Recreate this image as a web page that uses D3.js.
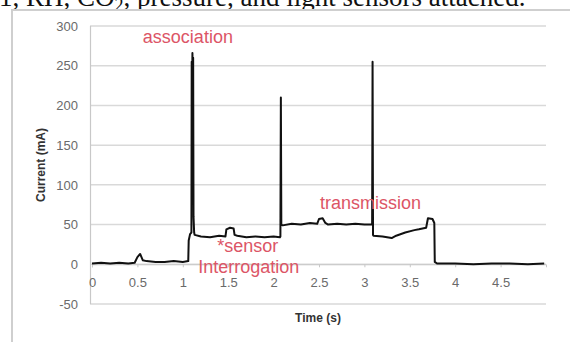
<!DOCTYPE html>
<html>
<head>
<meta charset="utf-8">
<script src="https://cdn.jsdelivr.net/npm/d3@7"></script>
<style>
  body { margin: 0; background: #fff; }
  svg { display: block; }
</style>
</head>
<body>
<div id="chart"></div>
<script>
// current trace: time (s) and current (mA)
const times = [0, 0.1, 0.2, 0.3, 0.4, 0.47, 0.5, 0.53, 0.56, 0.6, 0.7, 0.8, 0.9, 1.0, 1.06,
  1.065, 1.08, 1.095, 1.098, 1.102, 1.106, 1.11, 1.114, 1.118, 1.125, 1.13,
  1.2, 1.3, 1.4, 1.47, 1.48, 1.52, 1.56, 1.57, 1.6, 1.7, 1.8, 1.9, 2.0, 2.07,
  2.075, 2.08, 2.085, 2.1, 2.2, 2.3, 2.4, 2.48, 2.5, 2.54, 2.57, 2.6, 2.7, 2.8, 2.9, 3.0, 3.085,
  3.09, 3.095, 3.1, 3.2, 3.3, 3.35, 3.45, 3.55, 3.6, 3.68, 3.7, 3.75, 3.77, 3.775,
  3.8, 4.0, 4.2, 4.4, 4.6, 4.8, 4.98]
const current = [1, 2, 1, 2, 1, 2, 9, 13, 5, 4, 3, 3, 4, 3, 4,
  30, 38, 40, 255, 200, 266, 230, 260, 60, 40, 37,
  35, 34, 36, 35, 44, 46, 45, 37, 36, 34, 35, 34, 35, 34,
  35, 210, 50, 49, 51, 50, 52, 51, 57, 58, 52, 50, 51, 50, 51, 50, 50,
  255, 37, 36, 35, 33, 36, 40, 43, 44, 46, 58, 57, 52, 3,
  1, 1, 0, 1, 1, 0, 1]

const yTicks = [-50, 0, 50, 100, 150, 200, 250, 300]
const xTicks = [0, 0.5, 1, 1.5, 2, 2.5, 3, 3.5, 4, 4.5]

const labels = [
  {text: 'association', t: 0.56, v: 278},
  {text: 'transmission', t: 2.51, v: 70},
  {text: '*sensor', t: 1.38, v: 15},
  {text: 'Interrogation', t: 1.17, v: -11}
]

const width = 570, height = 342

const svg = d3.select('#chart')
  .append('svg')
  .attr('width', width)
  .attr('height', height)

// caption line of the page, cut off at the top
svg.append('text')
  .attr('x', -1)
  .attr('y', 6)
  .attr('font-family', 'Liberation Serif')
  .attr('font-size', '27px')
  .attr('fill', '#111')
  .html('1, RH, CO<tspan font-size="18px" dy="5">2</tspan><tspan dy="-5">, pressure, and light sensors attached.</tspan>')

// chart frame
svg.append('rect')
  .attr('x', 12)
  .attr('y', 10)
  .attr('width', 570)
  .attr('height', 345)
  .attr('fill', '#fff')
  .attr('stroke', '#cfcfcf')
  .attr('stroke-width', 2)

const x = d3.scaleLinear().domain([0, 5]).range([92, 546])
const y = d3.scaleLinear().domain([-50, 300]).range([304, 26])

// gridlines
svg.selectAll('.grid')
  .data(yTicks)
  .join('line')
  .attr('class', 'grid')
  .attr('x1', 90)
  .attr('x2', x(5))
  .attr('y1', d => y(d))
  .attr('y2', d => y(d))
  .attr('stroke', '#d9d9d9')
  .attr('stroke-width', 1.5)

svg.append('line')
  .attr('x1', 90.5).attr('x2', 90.5)
  .attr('y1', y(300)).attr('y2', y(-50))
  .attr('stroke', '#c8c8c8')
  .attr('stroke-width', 1.2)

// y axis labels
const yAxis = d3.axisLeft(y).tickValues(yTicks).tickSize(0).tickPadding(12)
  .tickFormat(d => String(d))
svg.append('g')
  .attr('transform', 'translate(90,0)')
  .call(yAxis)
  .call(g => g.select('.domain').remove())
  .selectAll('text')
  .attr('font-family', 'Liberation Sans')
  .attr('font-size', '13px')
  .attr('fill', '#6a6a6a')

// x axis sits on zero
const xAxis = d3.axisBottom(x).tickValues(xTicks).tickSize(3).tickPadding(10)
  .tickFormat(d => String(d))
svg.append('g')
  .attr('transform', `translate(0,${y(0)})`)
  .call(xAxis)
  .call(g => g.select('.domain').attr('stroke', '#c8c8c8'))
  .call(g => g.selectAll('line').attr('stroke', '#c8c8c8'))
  .selectAll('text')
  .attr('font-family', 'Liberation Sans')
  .attr('font-size', '13px')
  .attr('fill', '#6a6a6a')

// axis titles
svg.append('text')
  .attr('x', 318)
  .attr('y', 322)
  .attr('text-anchor', 'middle')
  .attr('font-family', 'Liberation Sans')
  .attr('font-weight', 'bold')
  .attr('font-size', '12px')
  .attr('fill', '#333')
  .text('Time (s)')

svg.append('text')
  .attr('transform', 'translate(42,165) rotate(-90)')
  .attr('text-anchor', 'middle')
  .attr('dominant-baseline', 'middle')
  .attr('font-family', 'Liberation Sans')
  .attr('font-weight', 'bold')
  .attr('font-size', '12px')
  .attr('fill', '#333')
  .text('Current (mA)')

// trace
const line = d3.line()
  .x(d => x(d[0]))
  .y(d => y(d[1]))

svg.append('path')
  .datum(d3.zip(times, current))
  .attr('d', line)
  .attr('fill', 'none')
  .attr('stroke', '#111')
  .attr('stroke-width', 2)
  .attr('stroke-linejoin', 'round')

// red annotations
svg.selectAll('.note')
  .data(labels)
  .join('text')
  .attr('class', 'note')
  .attr('x', d => x(d.t))
  .attr('y', d => y(d.v))
  .attr('font-family', 'Liberation Sans')
  .attr('font-size', '18px')
  .attr('fill', '#dc5566')
  .text(d => d.text)
</script>
</body>
</html>
